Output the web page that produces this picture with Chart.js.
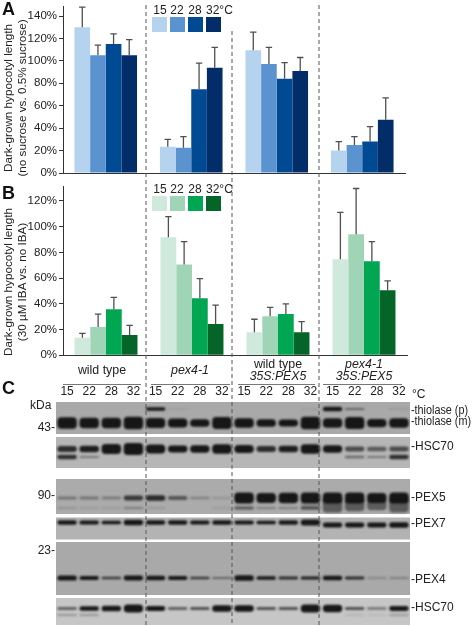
<!DOCTYPE html>
<html>
<head>
<meta charset="utf-8">
<title>Hypocotyl length and immunoblots</title>
<script src="https://cdn.jsdelivr.net/npm/chart.js@4/dist/chart.umd.min.js"></script>
<style>
  html, body { margin: 0; padding: 0; background: #fff; }
  #page { position: relative; width: 472px; height: 626px; overflow: hidden; font-family: "Liberation Sans", Arial, sans-serif; color: #222; }
  canvas { position: absolute; left: 0; }
  .t { position: absolute; white-space: nowrap; line-height: 1; font-size: 11.7px; }
  .c { transform: translate(-50%, -50%); text-align: center; }
  .l { transform: translateY(-50%); }
  .r { transform: translate(-100%, -50%); }
  .v { transform: translate(-50%, -50%) rotate(-90deg); }
  .p { font-weight: bold; font-size: 18px; color: #111; }
  .rule { position: absolute; height: 1px; background: #777; }
  .sw { position: absolute; width: 15px; height: 15px; }
</style>
</head>
<body>
<div id="page">
  <canvas id="chartA" width="472" height="195" style="top:-10px"></canvas>
  <canvas id="chartB" width="472" height="200" style="top:170px"></canvas>
  <canvas id="chartC" width="472" height="246" style="top:380px"></canvas>
  <canvas id="dividers" width="472" height="626" style="top:0"></canvas>
</div>
<script>
// categories and temperatures
const strains = ['wild type', 'pex4-1', 'wild type 35S:PEX5', 'pex4-1 35S:PEX5'];
const temps = ['15', '22', '28', '32'];

// panel A, sucrose response (%), one value per strain
const a15 = [130, 23.5, 109.5, 20];
const a22 = [105, 22.6, 97.3, 25];
const a28 = [115, 74.7, 84, 28];
const a32 = [105, 93.8, 91, 47.6];
// top of the error bars
const aErr15 = [148, 30, 125.6, 28];
const aErr22 = [114, 32.4, 112, 32.4];
const aErr28 = [124, 98, 98.5, 41.4];
const aErr32 = [119, 112, 103, 67];

// panel B, IBA response (%)
const b15 = [13.7, 91.8, 17.9, 74.6];
const b22 = [22, 70.5, 30.3, 94];
const b28 = [35.8, 44.3, 32, 73];
const b32 = [15.8, 24.4, 17.9, 50.5];
const bErr15 = [17, 107.8, 28, 111];
const bErr22 = [32, 88.4, 37.3, 129.6];
const bErr28 = [45, 59.6, 40, 88.4];
const bErr32 = [23.3, 39, 26.2, 57.8];

const blues = ['#b5d3ee', '#5b93d0', '#004a93', '#032d69'];
const greens = ['#cfe9dc', '#a0d4b6', '#00a651', '#056529'];

// panel C, band signal per lane (0 = no band, 1 = strongest)
const thiolaseP = [0, 0, 0, 0, .5, .03, 0, 0, 0, 0, 0, .02, .75, .2, 0, .05];
const thiolaseM = [.9, .8, .8, 1, .75, .65, .55, .95, .7, .55, .5, 1, .7, .95, .6, .7];
const hsc70a = [.4, .45, .8, 1, .7, .5, .55, .75, .6, .4, .45, .75, .55, .3, .25, .3];
const hsc70aLow = [.55, .2, 0, 0, 0, 0, 0, 0, 0, 0, 0, 0, 0, .25, .2, .6];
const pex5 = [.15, .15, .12, .35, .4, .25, .1, .04, 1, .9, .95, 1, 1, 1, .9, 1];
const pex5Low = [.06, .03, .03, .12, .04, 0, 0, .02, .25, .12, .12, .3, 0, 0, 0, 0];
const pex5Smear = [0, 0, 0, 0, 0, 0, 0, 0, 0, 0, 0, .1, .7, .55, .45, .7];
const pex7 = [.6, .55, .5, .8, .6, .6, .55, .6, .55, .5, .65, .9, 0, 0, 0, 0];
const pex7Shift = [0, 0, 0, 0, 0, 0, 0, 0, 0, 0, 0, 0, .7, .7, .7, .8];
const pex4 = [.85, .65, .35, .8, .75, .65, .35, .2, .95, .55, .4, .45, .7, .4, .12, .15];
const hsc70b = [.25, .5, .65, 1, .55, .25, .3, .8, .75, .3, .3, 1, .9, .3, .2, .55];
const hsc70bLow = [.15, .15, 0, 0, 0, 0, 0, 0, 0, 0, 0, 0, 0, .06, .03, .12];

// row on the gel, band height, strength
const bandRows = [
  [thiolaseP, 409, 6, 1], [thiolaseM, 423, 12.5, 1],
  [hsc70a, 449, 12, 1], [hsc70aLow, 457, 7, .85],
  [pex5Smear, 505, 20, .55], [pex5, 498, 11, 1], [pex5Low, 508, 8, 1],
  [pex7, 522.5, 6.5, 1], [pex7Shift, 525, 6.5, 1],
  [pex4, 578, 6, 1], [hsc70b, 608.5, 8, 1], [hsc70bLow, 615, 6, 1]
];
// top, bottom, grey of each membrane strip
const strips = [
  [402, 434, '#a9a9a9'], [437, 468, '#b6b6b6'], [479, 514, '#ababab'],
  [517.5, 539.5, '#b3b3b3'], [542, 595, '#a9a9a9'], [598, 625, '#c6c6c6']
];

Chart.defaults.font.family = '"Liberation Sans", Arial, sans-serif';
Chart.defaults.font.size = 11.5;
Chart.defaults.color = '#222';
Chart.defaults.animation = false;

// error bars, upper side only
const errorBars = {
  id: 'errorBars',
  afterDatasetsDraw(chart) {
    const c = chart.ctx, y = chart.scales.y;
    chart.data.datasets.forEach((ds, d) => {
      chart.getDatasetMeta(d).data.forEach((bar, i) => {
        const top = y.getPixelForValue(ds.errTop[i]);
        c.save();
        c.strokeStyle = '#505050';
        c.lineWidth = 1.3;
        c.beginPath();
        c.moveTo(bar.x, bar.y);
        c.lineTo(bar.x, top);
        c.moveTo(bar.x - 3.2, top);
        c.lineTo(bar.x + 3.2, top);
        c.stroke();
        c.restore();
      });
    });
  }
};

function barChart(id, rows, errs, colors, maxY, pad) {
  new Chart(document.getElementById(id), {
    type: 'bar',
    data: {
      labels: strains,
      datasets: rows.map((r, i) => ({
        label: temps[i], data: r, errTop: errs[i], backgroundColor: colors[i],
        barPercentage: 1, categoryPercentage: 0.732
      }))
    },
    options: {
      responsive: false,
      layout: { padding: pad },
      plugins: { legend: { display: false }, tooltip: { enabled: false } },
      scales: {
        x: {
          ticks: { display: false },
          grid: { display: false },
          border: { color: '#333', width: 1 },
          afterFit: s => { s.height = 0; }
        },
        y: {
          min: 0, max: maxY,
          ticks: { stepSize: 20, includeBounds: false, padding: 2, color: '#222', callback: v => v + '%' },
          grid: { drawOnChartArea: false, tickLength: 4, color: '#333' },
          border: { color: '#333', width: 1 },
          afterFit: s => { s.width = 63; }
        }
      }
    },
    plugins: [errorBars]
  });
}

barChart('chartA', [a15, a22, a28, a32], [aErr15, aErr22, aErr28, aErr32], blues, 148.5,
  { top: 16.5, bottom: 12, right: 67, left: 0 });
barChart('chartB', [b15, b22, b28, b32], [bErr15, bErr22, bErr28, bErr32], greens, 131,
  { top: 16.7, bottom: 14.7, right: 65, left: 0 });

// panel C: strips behind, blurred bands on top
const blotLook = {
  id: 'blotLook',
  beforeDatasetsDraw(chart) {
    const c = chart.ctx, a = chart.chartArea, y = chart.scales.y;
    strips.forEach(s => {
      c.fillStyle = s[2];
      c.fillRect(a.left, y.getPixelForValue(s[0]), a.right - a.left, y.getPixelForValue(s[1]) - y.getPixelForValue(s[0]));
    });
    c.save();
    c.filter = 'blur(1px)';
  },
  afterDatasetsDraw(chart) {
    chart.ctx.restore();
  }
};

new Chart(document.getElementById('chartC'), {
  type: 'bar',
  data: {
    labels: [...temps, ...temps, ...temps, ...temps],
    datasets: bandRows.map(([signal, row, h, k]) => ({
      data: signal.map(v => v > 0 ? [row - h * (.15 + v * .85) / 2, row + h * (.15 + v * .85) / 2] : null),
      backgroundColor: signal.map(v => `rgba(18,18,18,${k * Math.min(.97, .08 + v * 1.9)})`),
      borderRadius: 4, borderSkipped: false,
      barPercentage: .88, categoryPercentage: 1, grouped: false
    }))
  },
  options: {
    responsive: false,
    layout: { padding: { left: 56, right: 62, top: 0, bottom: 0 } },
    plugins: { legend: { display: false }, tooltip: { enabled: false } },
    scales: {
      x: {
        position: 'top',
        ticks: { autoSkip: false, maxRotation: 0, padding: 3, color: '#222', font: { size: 12 } },
        grid: { display: false, drawTicks: false },
        border: { display: false },
        afterFit: s => { s.height = 22; }
      },
      y: { display: false, reverse: true, min: 402, max: 626 }
    }
  },
  plugins: [blotLook]
});

// dashed separators between the strains, over the whole figure
const dividerX = [146, 232, 319];
const dividerTop = [5, 31, 5];
new Chart(document.getElementById('dividers'), {
  type: 'line',
  data: {
    datasets: dividerX.map((x, i) => ({
      data: [{ x: x, y: dividerTop[i] }, { x: x, y: 626 }],
      borderColor: '#555', borderWidth: 1, borderDash: [4, 3], pointRadius: 0
    }))
  },
  options: {
    responsive: false,
    layout: { padding: 0 },
    plugins: { legend: { display: false }, tooltip: { enabled: false } },
    scales: {
      x: { type: 'linear', display: false, min: 0, max: 472 },
      y: { type: 'linear', display: false, reverse: true, min: 0, max: 626 }
    }
  }
});

// text and legend boxes
const page = document.getElementById('page');
function text(str, x, y, cls, css) {
  const d = document.createElement('div');
  d.className = 't ' + cls;
  d.innerHTML = str;
  d.style.left = x + 'px';
  d.style.top = y + 'px';
  if (css) d.style.cssText += css;
  page.appendChild(d);
}
text('A', 2, 9, 'l p');
text('B', 2, 193, 'l p');
text('C', 2, 388, 'l p');

text('Dark-grown hypocotyl length', 8, 98, 'v');
text('(no sucrose vs. 0.5% sucrose)', 22, 98, 'v');
text('Dark-grown hypocotyl length', 8, 282, 'v');
text('(30 µM IBA vs. no IBA)', 22, 282, 'v');

function legend(colors, textY, boxY) {
  [160, 177, 195, 206].forEach((x, i) => {
    if (i < 3) text(temps[i], x, textY, 'c', 'font-size:12px');
    else text(temps[i] + '°C', x, textY, 'l', 'font-size:12px');
  });
  [152, 170, 188, 206].forEach((x, i) => {
    const b = document.createElement('div');
    b.className = 'sw';
    b.style.left = x + 'px';
    b.style.top = boxY + 'px';
    b.style.background = colors[i];
    page.appendChild(b);
  });
}
legend(blues, 10, 17);
legend(greens, 188.5, 196);

text('wild type', 102, 370, 'c', 'font-size:12.4px');
text('<i>pex4-1</i>', 190, 370, 'c', 'font-size:12.4px');
text('wild type', 278, 364, 'c', 'font-size:12.4px');
text('<i>35S:PEX5</i>', 278, 376, 'c', 'font-size:12.3px');
text('<i>pex4-1</i>', 364, 364, 'c', 'font-size:12.4px');
text('<i>35S:PEX5</i>', 364, 376, 'c', 'font-size:12.3px');

[[63, 78], [151, 79], [238, 77], [323, 79]].forEach(([x, w]) => {
  const r = document.createElement('div');
  r.className = 'rule';
  r.style.left = x + 'px';
  r.style.top = '384px';
  r.style.width = w + 'px';
  page.appendChild(r);
});

const condensed = 'font-size:12px;transform-origin:left center;transform:translateY(-50%) scaleX(.9)';
text('°C', 412, 394, 'l', 'font-size:12px');
text('kDa', 30, 405, 'l', 'font-size:12px');
text('43-', 55, 427, 'r', 'font-size:12px');
text('90-', 55, 495, 'r', 'font-size:12px');
text('23-', 55, 550, 'r', 'font-size:12px');
text('-thiolase (p)', 411, 410, 'l', condensed);
text('-thiolase (m)', 411, 421, 'l', condensed);
text('-HSC70', 411, 446, 'l', 'font-size:12px');
text('-PEX5', 411, 497, 'l', 'font-size:12px');
text('-PEX7', 411, 523, 'l', 'font-size:12px');
text('-PEX4', 411, 579, 'l', 'font-size:12px');
text('-HSC70', 411, 607, 'l', 'font-size:12px');
</script>
</body>
</html>
